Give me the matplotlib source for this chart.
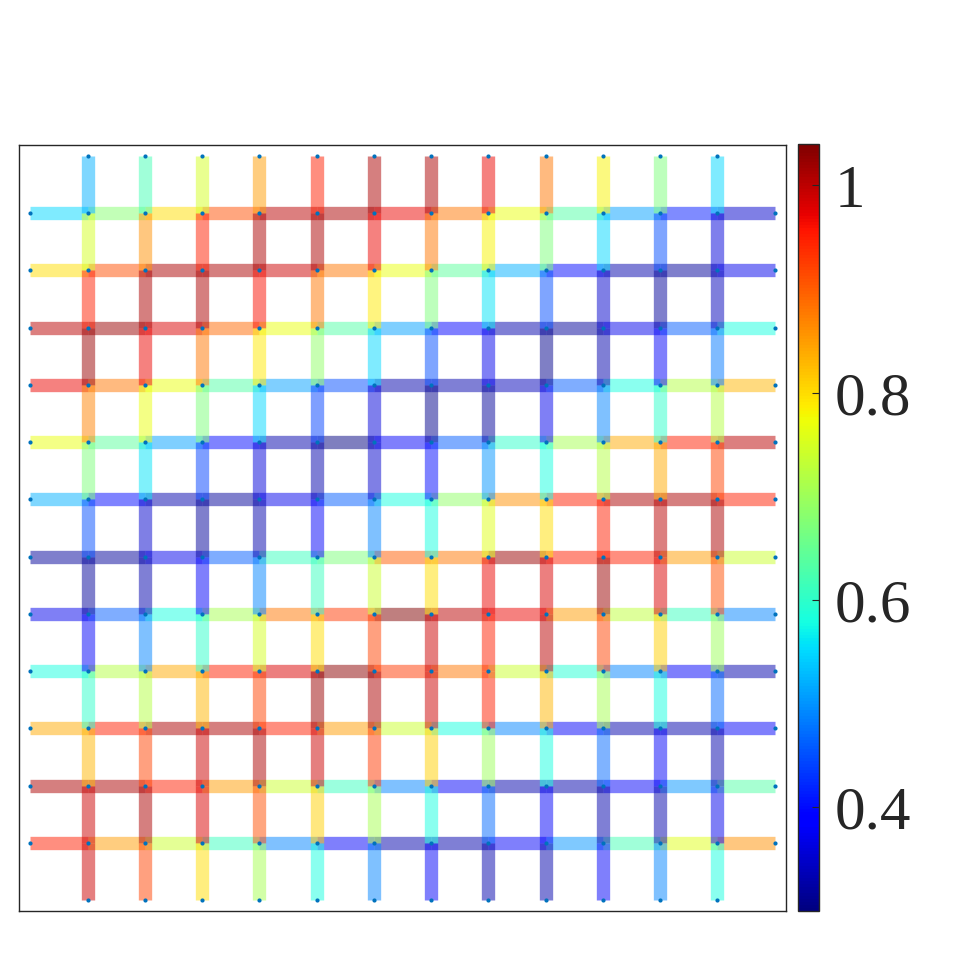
import numpy as np
import matplotlib
matplotlib.use("Agg")
import matplotlib.pyplot as plt
from matplotlib.collections import LineCollection
from matplotlib.colors import Normalize
from matplotlib.cm import ScalarMappable

plt.rcParams['font.family'] = ['Liberation Serif', 'DejaVu Serif']

# Horizontal edges: one list per row (top to bottom), 13 segments left to right
h_row_00 = [0.55, 0.68, 0.80, 0.91, 1.00, 1.01, 0.97, 0.88, 0.77, 0.63, 0.51, 0.41, 0.35]
h_row_01 = [0.80, 0.91, 1.01, 1.01, 0.99, 0.88, 0.77, 0.64, 0.52, 0.40, 0.33, 0.32, 0.37]
h_row_02 = [1.00, 1.02, 0.98, 0.89, 0.77, 0.63, 0.51, 0.39, 0.33, 0.32, 0.37, 0.46, 0.58]
h_row_03 = [0.97, 0.88, 0.77, 0.63, 0.51, 0.45, 0.33, 0.33, 0.34, 0.46, 0.58, 0.72, 0.83]
h_row_04 = [0.77, 0.64, 0.51, 0.40, 0.33, 0.30, 0.38, 0.46, 0.60, 0.71, 0.84, 0.95, 1.00]
h_row_05 = [0.52, 0.40, 0.33, 0.32, 0.37, 0.46, 0.58, 0.69, 0.86, 0.95, 1.01, 1.01, 0.95]
h_row_06 = [0.32, 0.32, 0.37, 0.46, 0.61, 0.67, 0.90, 0.88, 1.02, 0.95, 0.95, 0.85, 0.74]
h_row_07 = [0.37, 0.46, 0.58, 0.71, 0.88, 0.93, 1.04, 1.00, 0.97, 0.85, 0.73, 0.61, 0.49]
h_row_08 = [0.58, 0.72, 0.84, 0.95, 0.98, 1.03, 0.93, 0.88, 0.74, 0.59, 0.49, 0.38, 0.33]
h_row_09 = [0.84, 0.95, 1.01, 1.01, 0.95, 0.85, 0.74, 0.58, 0.49, 0.38, 0.33, 0.33, 0.38]
h_row_10 = [1.01, 1.01, 0.95, 0.85, 0.74, 0.61, 0.49, 0.38, 0.33, 0.33, 0.38, 0.50, 0.63]
h_row_11 = [0.95, 0.85, 0.74, 0.61, 0.49, 0.38, 0.33, 0.33, 0.38, 0.50, 0.62, 0.76, 0.86]

# Vertical edges: one list per segment level (top to bottom), 12 columns left to right
v_seg_00 = [0.52, 0.62, 0.75, 0.85, 0.95, 1.01, 1.01, 0.97, 0.88, 0.78, 0.67, 0.55]
v_seg_01 = [0.75, 0.86, 0.95, 1.01, 1.01, 0.97, 0.88, 0.78, 0.67, 0.55, 0.45, 0.36]
v_seg_02 = [0.95, 1.01, 1.01, 0.96, 0.88, 0.79, 0.67, 0.56, 0.45, 0.35, 0.32, 0.34]
v_seg_03 = [1.02, 0.97, 0.88, 0.79, 0.69, 0.55, 0.45, 0.37, 0.31, 0.33, 0.38, 0.48]
v_seg_04 = [0.87, 0.77, 0.67, 0.55, 0.44, 0.36, 0.31, 0.32, 0.37, 0.49, 0.60, 0.72]
v_seg_05 = [0.67, 0.56, 0.44, 0.36, 0.33, 0.35, 0.40, 0.50, 0.58, 0.72, 0.84, 0.92]
v_seg_06 = [0.45, 0.35, 0.32, 0.33, 0.38, 0.49, 0.58, 0.76, 0.80, 0.95, 1.00, 1.01]
v_seg_07 = [0.32, 0.33, 0.38, 0.49, 0.61, 0.74, 0.80, 0.97, 0.98, 1.02, 0.98, 0.91]
v_seg_08 = [0.38, 0.49, 0.60, 0.75, 0.80, 0.92, 0.99, 0.95, 1.00, 0.92, 0.81, 0.70]
v_seg_09 = [0.60, 0.72, 0.83, 0.92, 1.02, 1.01, 0.99, 0.95, 0.83, 0.71, 0.58, 0.47]
v_seg_10 = [0.83, 0.92, 0.99, 1.01, 0.99, 0.93, 0.81, 0.70, 0.58, 0.47, 0.38, 0.33]
v_seg_11 = [0.99, 1.01, 0.98, 0.91, 0.81, 0.71, 0.58, 0.47, 0.38, 0.33, 0.33, 0.37]
v_seg_12 = [0.99, 0.92, 0.80, 0.71, 0.58, 0.49, 0.38, 0.33, 0.33, 0.38, 0.49, 0.58]

cbar_ticks = [0.4, 0.6, 0.8, 1.0]
cbar_ticklabels = ["0.4", "0.6", "0.8", "1"]
clim = (0.30, 1.04)

H = np.array([h_row_00, h_row_01, h_row_02, h_row_03, h_row_04, h_row_05,
              h_row_06, h_row_07, h_row_08, h_row_09, h_row_10, h_row_11])
V = np.array([v_seg_00, v_seg_01, v_seg_02, v_seg_03, v_seg_04, v_seg_05, v_seg_06,
              v_seg_07, v_seg_08, v_seg_09, v_seg_10, v_seg_11, v_seg_12])

nrow, nhseg = H.shape
nvseg, ncol = V.shape

segs, vals = [], []
for r in range(nrow):
    for c in range(nhseg):
        segs.append([(c, r + 1), (c + 1, r + 1)])
        vals.append(H[r, c])
for s in range(nvseg):
    for k in range(ncol):
        segs.append([(k + 1, s), (k + 1, s + 1)])
        vals.append(V[s, k])

cmap = plt.get_cmap('jet')
norm = Normalize(vmin=clim[0], vmax=clim[1])

fig = plt.figure(figsize=(9.6, 9.6), dpi=100)
ax = fig.add_axes([19 / 960, 1 - 911 / 960, 767 / 960, 766 / 960])
lc = LineCollection(segs, colors=cmap(norm(np.array(vals))), linewidths=9.6,
                    alpha=0.5, capstyle='butt')
ax.add_collection(lc)

# node markers
px, py = [], []
for r in range(nrow):
    for c in range(nhseg + 1):
        px.append(c); py.append(r + 1)
for k in range(ncol):
    px += [k + 1, k + 1]; py += [0, nvseg]
ax.plot(px, py, 'o', ms=3.0, color='#0072BD', mec='none')

ax.set_xlim(-0.2, nhseg + 0.2)
ax.set_ylim(nvseg + 0.19, -0.19)
ax.set_xticks([]); ax.set_yticks([])
for sp in ax.spines.values():
    sp.set_color('#262626'); sp.set_linewidth(1.0)

cax = fig.add_axes([798 / 960, 1 - 911 / 960, 21 / 960, 767 / 960])
sm = ScalarMappable(norm=norm, cmap=cmap)
cb = fig.colorbar(sm, cax=cax)
cb.set_ticks(cbar_ticks)
cb.set_ticklabels(cbar_ticklabels)
cb.outline.set_edgecolor('#262626')
cb.outline.set_linewidth(1.0)
cax.tick_params(direction='in', length=5, width=0.8, labelsize=44, pad=11,
                colors='#262626')

fig.savefig('out.png', dpi=100)
